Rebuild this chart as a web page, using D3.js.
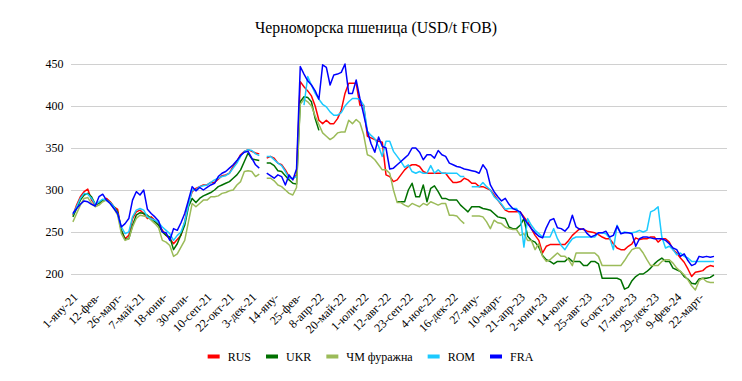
<!DOCTYPE html>
<html><head><meta charset="utf-8">
<script src="https://cdn.jsdelivr.net/npm/d3@7"></script>
<style>body{margin:0;background:#fff}</style>
</head><body><svg id="c" width="742" height="381"></svg>
<script>
const title = "Черноморска пшеница (USD/t FOB)";
const startDate = "2021-01-01";
const tickLabels = ["1-яну-21","12-фев-","26-март-","7-май-21","18-юни-","30-юли-","10-сеп-21","22-окт-21","3-дек-21","14-яну-","25-фев-","8-апр-22","20-май-22","1-юли-22","12-авг-22","23-сеп-22","4-ное-22","16-дек-22","27-яну-","10-март-","21-апр-23","2-юни-23","14-юли-","25-авг-23","6-окт-23","17-ное-23","29-дек-23","9-фев-24","22-март-"];
const yTicks = [200,250,300,350,400,450];
const seriesNames = ["RUS","UKR","ЧМ фуражна","ROM","FRA"];
const seriesColors = ["#ff0000","#007000","#9bbb59","#1ccaff","#0000ff"];
const N = null;
const rus = [270,282,292,298,301,288,282,285,288,290,286,280,277,252,242,246,266,274,276,272,266,268,264,260,252,246,242,236,241,246,262,285,298,302,304,306,306,309,309,313,317,318,320,328,334,342,346,348,346,344,343,N,338,340,338,332,330,324,316,313,318,429,423,418,412,400,383,379,383,379,379,385,395,415,427,427,427,401,401,364,362,360,358,357,318,316,310,312,318,324,328,330,330,328,322,320,320,320,320,320,320,314,309,309,310,314,312,308,308,304,304,302,300,294,288,282,276,274,274,274,274,268,262,254,246,240,225,233,235,235,235,235,235,240,246,250,254,253,251,250,249,247,244,242,242,236,231,229,229,233,236,243,241,242,242,244,244,238,242,242,238,229,225,219,214,206,197,202,203,204,208,210,209];
const ukr = [268,278,288,294,296,292,283,284,288,288,285,280,274,252,241,242,258,270,273,272,270,266,262,258,250,246,244,229,236,247,258,280,290,285,290,293,295,297,300,304,306,308,310,314,318,324,334,344,337,336,335,N,332,332,329,323,322,317,312,308,307,405,411,410,405,385,371,N,N,N,N,N,N,N,N,N,N,N,N,N,N,N,N,N,N,N,N,286,286,286,300,308,292,292,306,286,302,305,298,290,290,288,288,288,282,278,274,280,280,280,278,277,276,272,268,267,266,256,254,254,258,266,245,240,238,232,222,217,215,212,215,215,215,219,215,215,215,210,210,215,215,212,195,195,195,195,195,193,182,184,192,197,200,200,203,207,212,216,219,215,215,207,205,203,197,194,189,188,194,195,195,196,199];
const chm = [262,272,282,290,291,284,280,282,286,288,284,278,270,248,240,242,256,266,270,269,268,264,260,255,240,238,234,221,224,232,240,262,284,280,284,288,288,292,292,293,296,297,299,300,306,310,322,323,322,316,319,N,314,314,311,306,304,300,296,294,303,402,408,405,400,388,378,368,364,360,363,368,369,369,383,379,384,380,366,342,340,336,330,324,324,320,300,285,285,282,280,284,282,280,284,282,286,284,282,284,284,270,270,269,264,260,N,269,269,269,268,262,254,264,261,260,256,254,253,253,246,248,240,240,229,236,221,215,217,221,225,221,221,217,210,225,225,225,225,225,225,221,210,210,210,210,210,210,216,223,229,231,231,225,217,210,210,210,215,217,217,213,207,203,199,193,186,181,192,195,191,190,190];
const rom = [271,280,290,296,295,290,283,286,289,288,285,280,272,256,248,250,268,276,278,276,268,266,264,261,256,252,248,240,246,250,262,282,300,300,304,305,306,309,312,314,316,317,320,326,332,340,346,348,347,343,341,N,340,340,336,332,329,322,314,314,316,N,401,435,425,415,408,402,399,393,389,389,392,400,405,409,409,408,401,370,365,361,352,340,358,358,346,340,334,327,330,322,320,322,320,320,329,320,324,320,320,320,320,320,316,316,N,304,304,304,309,304,300,292,288,283,277,278,278,278,270,232,266,258,252,248,244,244,244,254,242,234,229,236,242,244,244,244,244,244,244,249,249,248,243,229,258,248,250,249,249,250,252,250,252,274,276,280,244,231,233,229,223,225,221,219,215,215,215,215,215,215,215];
const fra = [272,278,283,287,286,283,281,292,295,288,284,278,272,256,260,266,288,298,294,300,277,272,268,263,250,249,240,254,252,261,272,288,304,299,303,300,303,306,308,316,320,322,326,330,335,341,345,346,338,330,326,N,320,317,314,318,316,306,318,312,325,447,438,430,425,418,408,449,446,425,437,438,440,450,415,415,431,409,390,370,355,345,363,352,350,325,326,330,334,338,342,350,350,345,336,342,342,338,347,342,340,332,330,328,327,325,324,323,322,320,330,324,306,298,292,287,290,283,278,276,274,266,260,254,249,245,243,255,264,266,255,254,251,256,270,256,253,254,248,244,246,249,249,251,244,246,257,248,249,249,248,233,242,244,244,243,242,242,242,240,236,231,229,221,224,216,210,212,221,220,221,220,221];
const seriesData = [rus, ukr, chm, rom, fra];

const FONT = "'Liberation Serif', 'Times New Roman', Tinos, 'DejaVu Serif', serif";
const svg = d3.select("#c");
svg.append("rect").attr("width",742).attr("height",381).attr("fill","#fff");
const t0 = d3.timeParse("%Y-%m-%d")(startDate);
const dates = rus.map((_,i)=>d3.timeDay.offset(t0, 7*i));
const x = d3.scaleTime().domain([dates[0], dates[dates.length-1]]).range([72.9, 714]);
const y = d3.scaleLinear().domain([200,450]).range([274,64]);

// title
svg.append("text").attr("x",376).attr("y",33).attr("text-anchor","middle")
  .attr("font-family",FONT).attr("font-size",15.8).text(title);

// gridlines + y labels
const gy = svg.append("g");
gy.selectAll("line").data(yTicks).join("line")
  .attr("x1",71).attr("x2",727).attr("y1",d=>y(d)).attr("y2",d=>y(d))
  .attr("stroke","#d0d0d0").attr("stroke-width",1).attr("shape-rendering","crispEdges");
gy.selectAll("text").data(yTicks).join("text")
  .attr("x",63.5).attr("y",d=>y(d)).attr("dy","0.35em").attr("text-anchor","end")
  .attr("font-family",FONT).attr("font-size",12).text(d=>d);

// x labels
const tickIdx = tickLabels.map((_,k)=>k*6);
svg.append("g").selectAll("text").data(tickIdx).join("text")
  .attr("transform",i=>`translate(${x(dates[i])+5.5},${298}) rotate(-45)`)
  .attr("text-anchor","end").attr("font-family",FONT).attr("font-size",12)
  .text((i,k)=>tickLabels[k]);

// lines
const line = d3.line().defined(d=>d!=null).x((d,i)=>x(dates[i])).y(d=>y(d));
svg.append("g").selectAll("path").data(seriesData).join("path")
  .attr("d",d=>line(d)).attr("fill","none")
  .attr("stroke",(d,k)=>seriesColors[k]).attr("stroke-width",1.5)
  .attr("stroke-linejoin","round");

// legend
const lg = svg.append("g");
let cx = 0;
seriesNames.forEach((n,k)=>{
  const g = lg.append("g");
  g.append("rect").attr("x",0).attr("y",-2).attr("width",12).attr("height",4).attr("fill",seriesColors[k]);
  const t = g.append("text").attr("x",20).attr("y",0).attr("dy","0.35em")
    .attr("font-family",FONT).attr("font-size",12).text(n);
  const w = 20 + t.node().getComputedTextLength();
  g.attr("transform",`translate(${cx},0)`);
  cx += w + 15;
});
const total = cx - 15;
lg.attr("transform",`translate(${370.5 - total/2},356.5)`);
</script></body></html>
